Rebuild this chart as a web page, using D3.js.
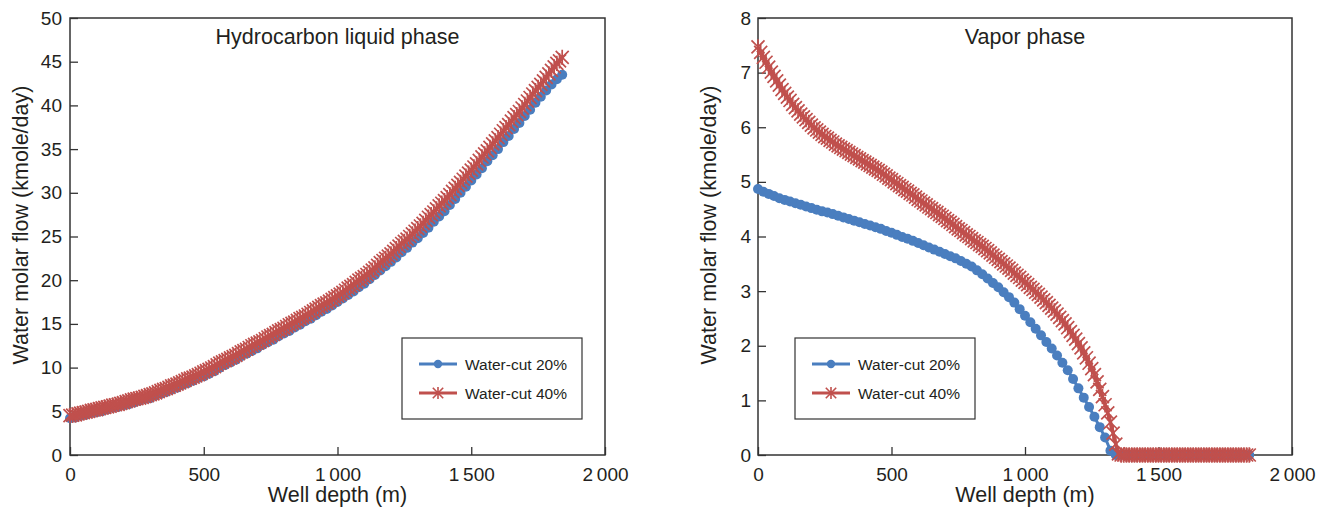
<!DOCTYPE html>
<html>
<head>
<meta charset="utf-8">
<script src="https://cdn.jsdelivr.net/npm/d3@7"></script>
<style>
  body { margin: 0; background: #fff; }
  text { font-family: "Liberation Sans", Arial, sans-serif; fill: #231f20; }
</style>
</head>
<body>
<svg id="chart" width="1333" height="510"></svg>
<script>
// Well depth (m) for the water-cut 20% samples
var depth20 = [0,20,40,60,80,100,120,140,160,180,
  200,220,240,260,280,300,320,340,360,380,
  400,420,440,460,480,500,520,540,560,580,
  600,620,640,660,680,700,720,740,760,780,
  800,820,840,860,880,900,920,940,960,980,
  1000,1020,1040,1060,1080,1100,1120,1140,1160,1180,
  1200,1220,1240,1260,1280,1300,1320,1340,1360,1380,
  1400,1420,1440,1460,1480,1500,1520,1540,1560,1580,
  1600,1620,1640,1660,1680,1700,1720,1740,1760,1780,
  1800,1820,1840];

// Well depth (m) for the water-cut 40% samples
var depth40 = [0,10,20,30,40,50,60,70,80,90,
  100,110,120,130,140,150,160,170,180,190,
  200,210,220,230,240,250,260,270,280,290,
  300,310,320,330,340,350,360,370,380,390,
  400,410,420,430,440,450,460,470,480,490,
  500,510,520,530,540,550,560,570,580,590,
  600,610,620,630,640,650,660,670,680,690,
  700,710,720,730,740,750,760,770,780,790,
  800,810,820,830,840,850,860,870,880,890,
  900,910,920,930,940,950,960,970,980,990,
  1000,1010,1020,1030,1040,1050,1060,1070,1080,1090,
  1100,1110,1120,1130,1140,1150,1160,1170,1180,1190,
  1200,1210,1220,1230,1240,1250,1260,1270,1280,1290,
  1300,1310,1320,1330,1340,1350,1360,1370,1380,1390,
  1400,1410,1420,1430,1440,1450,1460,1470,1480,1490,
  1500,1510,1520,1530,1540,1550,1560,1570,1580,1590,
  1600,1610,1620,1630,1640,1650,1660,1670,1680,1690,
  1700,1710,1720,1730,1740,1750,1760,1770,1780,1790,
  1800,1810,1820,1830,1840];

// Hydrocarbon liquid phase (kmole/day)
var liquid20 = [4.2,4.3,4.5,4.6,4.8,4.9,5.0,5.2,5.4,5.5,
  5.7,5.8,6.0,6.2,6.4,6.5,6.8,7.0,7.2,7.5,
  7.7,8.0,8.2,8.5,8.8,9.0,9.3,9.6,10.0,10.3,
  10.6,10.9,11.3,11.6,11.9,12.2,12.6,12.9,13.2,13.6,
  13.9,14.2,14.6,14.9,15.3,15.6,16.0,16.4,16.7,17.1,
  17.5,17.9,18.3,18.7,19.2,19.6,20.1,20.6,21.1,21.6,
  22.1,22.6,23.2,23.7,24.3,24.8,25.4,26.0,26.7,27.3,
  27.9,28.6,29.3,30.0,30.7,31.4,32.1,32.8,33.6,34.3,
  35.0,35.8,36.5,37.3,38.0,38.8,39.5,40.3,41.0,41.7,
  42.4,43.0,43.5];
var liquid40 = [4.5,4.55,4.6,4.7,4.8,4.85,4.9,5.0,5.1,5.15,
  5.2,5.3,5.4,5.45,5.5,5.6,5.7,5.75,5.8,5.9,
  6.0,6.1,6.2,6.3,6.4,6.45,6.5,6.6,6.7,6.8,
  6.9,7.0,7.1,7.25,7.4,7.5,7.6,7.75,7.9,8.0,
  8.1,8.25,8.4,8.55,8.7,8.8,8.9,9.05,9.2,9.35,
  9.5,9.65,9.8,9.95,10.1,10.3,10.5,10.65,10.8,10.95,
  11.1,11.25,11.4,11.6,11.8,11.95,12.1,12.3,12.5,12.65,
  12.8,12.95,13.1,13.3,13.5,13.65,13.8,14.0,14.2,14.35,
  14.5,14.7,14.9,15.05,15.2,15.4,15.6,15.75,15.9,16.1,
  16.3,16.5,16.7,16.9,17.1,17.25,17.4,17.6,17.8,18.0,
  18.2,18.4,18.6,18.85,19.1,19.3,19.5,19.75,20.0,20.2,
  20.4,20.65,20.9,21.15,21.4,21.7,22.0,22.25,22.5,22.75,
  23.0,23.3,23.6,23.9,24.2,24.45,24.7,25.0,25.3,25.6,
  25.9,26.2,26.5,26.85,27.2,27.5,27.8,28.15,28.5,28.8,
  29.1,29.45,29.8,30.15,30.5,30.85,31.2,31.55,31.9,32.25,
  32.6,32.95,33.3,33.7,34.1,34.45,34.8,35.2,35.6,35.95,
  36.3,36.7,37.1,37.45,37.8,38.2,38.6,38.95,39.3,39.7,
  40.1,40.5,40.9,41.3,41.7,42.05,42.4,42.8,43.2,43.6,
  44.0,44.4,44.8,45.1,45.5];

// Vapor phase (kmole/day)
var vapor20 = [4.87,4.82,4.78,4.74,4.70,4.67,4.64,4.61,4.58,4.55,
  4.52,4.49,4.46,4.44,4.41,4.38,4.35,4.32,4.29,4.26,
  4.23,4.20,4.17,4.14,4.10,4.07,4.03,3.99,3.96,3.92,
  3.88,3.84,3.80,3.76,3.72,3.68,3.64,3.60,3.55,3.50,
  3.45,3.38,3.31,3.23,3.15,3.07,2.98,2.89,2.79,2.67,
  2.55,2.43,2.31,2.19,2.07,1.95,1.82,1.69,1.55,1.39,
  1.22,1.05,0.88,0.70,0.51,0.32,0.08,0,0,0,
  0,0,0,0,0,0,0,0,0,0,
  0,0,0,0,0,0,0,0,0,0,
  0,0,0];
var vapor40 = [7.47,7.37,7.28,7.19,7.10,7.01,6.93,6.85,6.77,6.69,
  6.62,6.55,6.49,6.42,6.36,6.30,6.24,6.19,6.14,6.09,
  6.04,5.99,5.95,5.91,5.87,5.83,5.80,5.76,5.73,5.69,
  5.66,5.63,5.60,5.57,5.54,5.51,5.48,5.45,5.42,5.39,
  5.36,5.33,5.30,5.27,5.24,5.21,5.18,5.14,5.11,5.07,
  5.04,5.00,4.97,4.93,4.90,4.86,4.83,4.79,4.76,4.72,
  4.68,4.65,4.61,4.58,4.54,4.51,4.47,4.44,4.40,4.37,
  4.33,4.29,4.26,4.22,4.18,4.14,4.11,4.07,4.03,4.00,
  3.96,3.92,3.89,3.85,3.82,3.78,3.74,3.70,3.66,3.62,
  3.58,3.54,3.50,3.46,3.42,3.38,3.33,3.29,3.25,3.20,
  3.16,3.12,3.07,3.03,2.98,2.94,2.89,2.84,2.79,2.74,
  2.69,2.64,2.58,2.52,2.46,2.40,2.33,2.26,2.19,2.12,
  2.04,1.96,1.87,1.78,1.68,1.58,1.47,1.34,1.20,1.07,
  0.92,0.77,0.60,0.40,0.20,0.02,0,0,0,0,
  0,0,0,0,0,0,0,0,0,0,
  0,0,0,0,0,0,0,0,0,0,
  0,0,0,0,0,0,0,0,0,0,
  0,0,0,0,0,0,0,0,0,0,
  0,0,0,0,0];

var xTicks = [0, 500, 1000, 1500, 2000];
var liquidTicks = [0, 5, 10, 15, 20, 25, 30, 35, 40, 45, 50];
var vaporTicks = [0, 1, 2, 3, 4, 5, 6, 7, 8];
var legendLabels = ["Water-cut 20%", "Water-cut 40%"];

var blue = "#4a7ebf", red = "#c0504d", ink = "#333";

var svg = d3.select("#chart");

// star marker: X plus a vertical bar
var star = {
  draw: function(ctx, size) {
    var r = Math.sqrt(size) / 2, q = r * 0.85;
    ctx.moveTo(0, -r); ctx.lineTo(0, r);
    ctx.moveTo(-q, -q); ctx.lineTo(q, q);
    ctx.moveTo(-q, q); ctx.lineTo(q, -q);
  }
};

function fmt(d) {
  // thin space as thousands separator
  return d >= 1000 ? Math.floor(d / 1000) + "\u2009" + d3.format("03d")(d % 1000) : String(d);
}

function styleAxis(a) {
  a.select(".domain").remove();
  a.selectAll("line").attr("stroke", ink).attr("stroke-width", 1.3);
  a.selectAll("text").attr("font-size", 19)
    .attr("font-family", "Liberation Sans, Arial, sans-serif").attr("fill", "#231f20");
}

function panel(opt) {
  var x = d3.scaleLinear().domain([0, 2000]).range([opt.left, opt.right]);
  var y = d3.scaleLinear().domain([0, opt.yMax]).range([455, 18]);
  var g = svg.append("g");

  // axes, ticks pointing inward
  g.append("g")
      .attr("transform", "translate(0,455)")
      .call(d3.axisBottom(x).tickValues(xTicks).tickSize(-8).tickPadding(13).tickFormat(fmt))
      .call(styleAxis);

  g.append("g")
      .attr("transform", "translate(" + opt.left + ",0)")
      .call(d3.axisLeft(y).tickValues(opt.ticks).tickSize(-8).tickPadding(opt.pad))
      .call(styleAxis);

  // frame
  g.append("rect")
      .attr("x", opt.left).attr("y", 18)
      .attr("width", opt.right - opt.left).attr("height", 437)
      .attr("fill", "none").attr("stroke", ink).attr("stroke-width", 1.5);

  g.append("text")
      .attr("x", (opt.left + opt.right) / 2).attr("y", 44)
      .attr("text-anchor", "middle").attr("font-size", 21.5)
      .text(opt.title);

  g.append("text")
      .attr("x", (opt.left + opt.right) / 2).attr("y", 502)
      .attr("text-anchor", "middle").attr("font-size", 21.5)
      .text("Well depth (m)");

  g.append("text")
      .attr("transform", "translate(" + (opt.left - 42) + ",225) rotate(-90)")
      .attr("text-anchor", "middle").attr("font-size", 21.5)
      .text("Water molar flow (kmole/day)");

  var line20 = d3.line()
      .x(function(d, i) { return x(depth20[i]); })
      .y(function(d) { return y(d); });
  var line40 = d3.line()
      .x(function(d, i) { return x(depth40[i]); })
      .y(function(d) { return y(d); });

  var marker = d3.symbol().type(star).size(235);

  // 20% series: line + filled circles
  g.append("path").datum(opt.s20)
      .attr("d", line20).attr("fill", "none")
      .attr("stroke", blue).attr("stroke-width", 3);
  g.append("g").selectAll("circle")
      .data(opt.s20)
    .enter().append("circle")
      .attr("cx", function(d, i) { return x(depth20[i]); })
      .attr("cy", function(d) { return y(d); })
      .attr("r", 5)
      .attr("fill", blue);

  // 40% series: line + stars
  g.append("path").datum(opt.s40)
      .attr("d", line40).attr("fill", "none")
      .attr("stroke", red).attr("stroke-width", 3.5);
  g.append("g").selectAll("path")
      .data(opt.s40)
    .enter().append("path")
      .attr("transform", function(d, i) { return "translate(" + x(depth40[i]) + "," + y(d) + ")"; })
      .attr("d", marker)
      .attr("fill", "none")
      .attr("stroke", red).attr("stroke-width", 1.7);

  // legend
  var lx = opt.legendX;
  var lg = g.append("g");
  lg.append("rect")
      .attr("x", lx).attr("y", 338).attr("width", 180).attr("height", 81)
      .attr("fill", "#fff").attr("stroke", ink).attr("stroke-width", 1.2);
  [0, 1].forEach(function(k) {
    var ly = 364 + k * 29;
    lg.append("line")
        .attr("x1", lx + 17).attr("x2", lx + 55)
        .attr("y1", ly).attr("y2", ly)
        .attr("stroke", k ? red : blue).attr("stroke-width", 3);
    if (k) {
      lg.append("path")
          .attr("transform", "translate(" + (lx + 36) + "," + ly + ")")
          .attr("d", d3.symbol().type(star).size(150)).attr("fill", "none")
          .attr("stroke", red).attr("stroke-width", 1.6);
    } else {
      lg.append("circle").attr("cx", lx + 36).attr("cy", ly).attr("r", 4.2).attr("fill", blue);
    }
    lg.append("text")
        .attr("x", lx + 63).attr("y", ly + 5.5)
        .attr("font-size", 15.5)
        .text(legendLabels[k]);
  });
}

panel({left: 70, right: 605, yMax: 50, ticks: liquidTicks, pad: 8,
  title: "Hydrocarbon liquid phase", s20: liquid20, s40: liquid40, legendX: 402});
panel({left: 758, right: 1292, yMax: 8, ticks: vaporTicks, pad: 7,
  title: "Vapor phase", s20: vapor20, s40: vapor40, legendX: 795});
</script>
</body>
</html>
